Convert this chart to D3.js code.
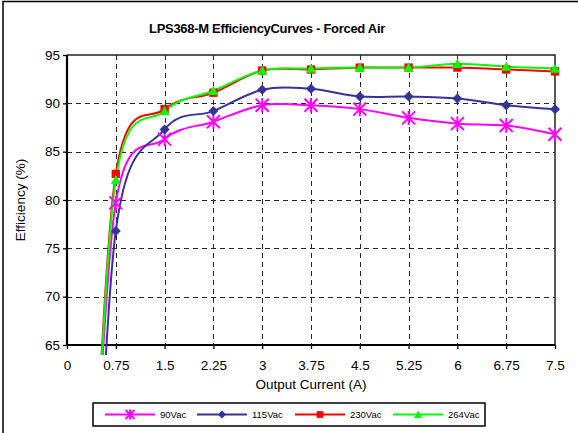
<!DOCTYPE html>
<html>
<head>
<meta charset="utf-8">
<script src="https://cdnjs.cloudflare.com/ajax/libs/d3/7.8.5/d3.min.js"></script>
<style>
  html, body { margin: 0; padding: 0; background: #fff; }
  svg { display: block; font-family: "Liberation Sans", Arial, sans-serif; }
</style>
</head>
<body>
<svg id="chart" width="578" height="433"></svg>
<script>
// Output current (A) at each measurement point
const current = [0.375, 0.75, 1.5, 2.25, 3, 3.75, 4.5, 5.25, 6, 6.75, 7.5];
// Efficiency (%) per input voltage
const eff90  = [40.0, 79.7, 86.3, 88.1, 89.8, 89.8, 89.4, 88.5, 87.9, 87.7, 86.8];
const eff115 = [30.0, 76.8, 87.3, 89.2, 91.4, 91.5, 90.7, 90.7, 90.5, 89.8, 89.4];
const eff230 = [41.0, 82.7, 89.4, 91.1, 93.4, 93.5, 93.7, 93.7, 93.7, 93.5, 93.3];
const eff264 = [40.0, 82.1, 89.2, 91.3, 93.4, 93.6, 93.7, 93.7, 94.1, 93.8, 93.6];
const seriesNames = ["90Vac", "115Vac", "230Vac", "264Vac"];
const xTicks = [0, 0.75, 1.5, 2.25, 3, 3.75, 4.5, 5.25, 6, 6.75, 7.5];
const yTicks = [65, 70, 75, 80, 85, 90, 95];

const series = [
  { name: seriesNames[0], values: eff90,  color: "#FF00FF", marker: "star" },
  { name: seriesNames[1], values: eff115, color: "#333399", marker: "diamond" },
  { name: seriesNames[2], values: eff230, color: "#FF0000", marker: "square" },
  { name: seriesNames[3], values: eff264, color: "#00FF00", marker: "triangle" }
];

const svg = d3.select("#chart");
const plot = { left: 67, right: 555, top: 55, bottom: 345 };

const x = d3.scaleLinear().domain([0, 7.5]).range([plot.left, plot.right]);
const y = d3.scaleLinear().domain([65, 95]).range([plot.bottom, plot.top]);

// Outer frame
svg.append("rect")
  .attr("x", 3).attr("y", 1.5).attr("width", 590).attr("height", 450)
  .attr("fill", "none").attr("stroke", "#000").attr("stroke-width", 1.5);

// Title
svg.append("text")
  .attr("x", 267).attr("y", 33)
  .attr("text-anchor", "middle")
  .attr("font-weight", "bold").attr("font-size", 13)
  .attr("letter-spacing", -0.3)
  .text("LPS368-M EfficiencyCurves - Forced Air");

// Grid
const grid = svg.append("g").attr("stroke", "#000").attr("stroke-width", 1)
  .attr("stroke-dasharray", "5,4").attr("opacity", 0.85);
grid.selectAll("line.v").data(xTicks.filter(d => d > 0 && d < 7.5)).join("line")
  .attr("x1", d => Math.round(x(d)) + 0.5).attr("x2", d => Math.round(x(d)) + 0.5)
  .attr("y1", plot.top).attr("y2", plot.bottom);
grid.selectAll("line.h").data(yTicks.filter(d => d > 65 && d < 95)).join("line")
  .attr("x1", plot.left).attr("x2", plot.right)
  .attr("y1", d => Math.round(y(d)) + 0.5).attr("y2", d => Math.round(y(d)) + 0.5);

// Plot frame (top/right)
svg.append("path")
  .attr("d", `M${plot.left},${plot.top}H${plot.right}V${plot.bottom}`)
  .attr("fill", "none").attr("stroke", "#222").attr("stroke-width", 1.5);

// Axes
const xAxis = svg.append("g").attr("transform", `translate(0,${plot.bottom})`)
  .call(d3.axisBottom(x).tickValues(xTicks).tickFormat(d => d).tickSize(4).tickPadding(11));
const yAxis = svg.append("g").attr("transform", `translate(${plot.left},0)`)
  .call(d3.axisLeft(y).tickValues(yTicks).tickSize(4).tickPadding(3));
[xAxis, yAxis].forEach(a => {
  a.select(".domain").attr("stroke", "#000").attr("stroke-width", 2.2);
  a.selectAll(".tick line").attr("stroke", "#000").attr("stroke-width", 1.3);
  a.selectAll("text").attr("font-size", 13.5).attr("fill", "#000")
    .attr("font-family", "Liberation Sans, Arial, sans-serif");
});
yAxis.select(".domain").attr("d", `M0,${plot.top}V${plot.bottom}`);
xAxis.select(".domain").attr("d", `M${plot.left},0H${plot.right}`);

// Axis titles
svg.append("text")
  .attr("x", 311).attr("y", 389).attr("text-anchor", "middle")
  .attr("font-size", 13.5).text("Output Current (A)");
svg.append("text")
  .attr("transform", "translate(25,200) rotate(-90)")
  .attr("text-anchor", "middle").attr("font-size", 13.5)
  .text("Efficiency  (%)");

// Marker shapes
function drawMarker(g, type, color, s) {
  if (type === "star") {
    const r = s / 2;
    g.append("path")
      .attr("d", `M${-r},${-r}L${r},${r}M${-r},${r}L${r},${-r}M0,${-r * 1.1}V${r * 1.1}`)
      .attr("stroke", color).attr("stroke-width", 2).attr("fill", "none");
  } else if (type === "diamond") {
    const r = s / 2;
    g.append("path").attr("d", `M0,${-r}L${r},0L0,${r}L${-r},0Z`).attr("fill", color);
  } else if (type === "square") {
    const r = s / 2.4;
    g.append("rect").attr("x", -r).attr("y", -r).attr("width", 2 * r).attr("height", 2 * r)
      .attr("fill", color);
  } else if (type === "triangle") {
    const r = s / 2;
    g.append("path").attr("d", `M0,${-r}L${r},${r * 0.85}L${-r},${r * 0.85}Z`).attr("fill", color);
  }
}

// Curves, clipped just past the axes
svg.append("defs").append("clipPath").attr("id", "plotClip").append("rect")
  .attr("x", plot.left).attr("y", plot.top - 10)
  .attr("width", plot.right - plot.left + 10).attr("height", plot.bottom - plot.top + 20);

const line = d3.line()
  .x(d => x(d[0])).y(d => y(d[1]))
  .curve(d3.curveCatmullRom.alpha(0));

const linesG = svg.append("g").attr("clip-path", "url(#plotClip)");
series.forEach(s => {
  const pts = current.map((c, i) => [c, s.values[i]]);
  linesG.append("path").datum(pts)
    .attr("d", line).attr("fill", "none")
    .attr("stroke", s.color).attr("stroke-width", 2);
});
series.forEach(s => {
  const pts = current.map((c, i) => [c, s.values[i]]).filter(p => p[1] >= 65);
  pts.forEach(p => {
    const g = svg.append("g").attr("transform", `translate(${x(p[0])},${y(p[1])})`);
    drawMarker(g, s.marker, s.color, s.marker === "star" ? 13 : 10);
  });
});

// Legend
const legend = svg.append("g");
legend.append("rect")
  .attr("x", 93).attr("y", 403).attr("width", 392).attr("height", 23)
  .attr("fill", "#fff").attr("stroke", "#000").attr("stroke-width", 1.5);
const legendX = [105, 197, 295, 393];
series.forEach((s, i) => {
  const x0 = legendX[i];
  const cy = 414.5;
  legend.append("line").attr("x1", x0).attr("x2", x0 + 50)
    .attr("y1", cy).attr("y2", cy).attr("stroke", s.color).attr("stroke-width", 2);
  const g = legend.append("g").attr("transform", `translate(${x0 + 25},${cy})`);
  drawMarker(g, s.marker, s.color, s.marker === "star" ? 9 : 8);
  legend.append("text").attr("x", x0 + 55).attr("y", cy + 3.5)
    .attr("font-size", 9.5).text(s.name);
});
</script>
</body>
</html>
